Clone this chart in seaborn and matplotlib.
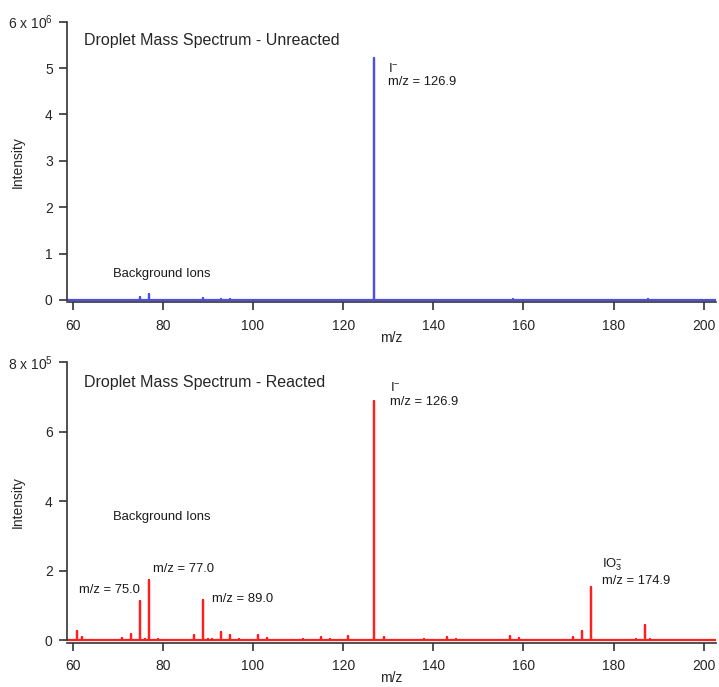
import matplotlib
matplotlib.use('Agg')
import numpy as np
import pandas as pd
import seaborn as sns
from matplotlib import pyplot as plt
from matplotlib.ticker import FuncFormatter

# stick spectra: m/z position and peak height
unreacted_mz = [75.0, 77.0, 89.0, 93.0, 95.0, 126.9, 157.6, 187.6]
unreacted_int = [0.06e6, 0.12e6, 0.04e6, 0.02e6, 0.01e6, 5.21e6, 0.01e6, 0.01e6]

reacted_mz = [61, 62, 71, 73, 75.0, 76, 77.0, 79, 81, 87, 89.0, 90, 91, 93, 95, 97, 99, 101, 103, 105,
              111, 115, 117, 121, 126.9, 129, 131, 138, 143, 145, 147, 151, 157, 159, 171, 173, 174.9,
              185, 187, 188, 197, 199]
reacted_int = [0.26e5, 0.11e5, 0.06e5, 0.19e5, 1.13e5, 0.05e5, 1.75e5, 0.03e5, 0.02e5, 0.16e5,
               1.16e5, 0.03e5, 0.03e5, 0.25e5, 0.16e5, 0.03e5, 0.02e5, 0.15e5, 0.08e5, 0.02e5,
               0.03e5, 0.10e5, 0.05e5, 0.12e5, 6.89e5, 0.09e5, 0.02e5, 0.03e5, 0.09e5, 0.03e5,
               0.02e5, 0.02e5, 0.13e5, 0.07e5, 0.10e5, 0.28e5, 1.54e5, 0.03e5, 0.43e5, 0.03e5,
               0.02e5, 0.02e5]

XLIM = (58.8, 202.6)
BLUE = '#4f4fe8'
RED = '#ff1f1f'
FONT = ['Liberation Sans', 'DejaVu Sans']
LABEL_SIZE = 9.4
TITLE_SIZE = 11.5


def stick_frame(mz, intensity, xlim):
    # one continuous trace: baseline at zero with a spike at every peak
    xs, ys = [xlim[0]], [0.0]
    for m, h in zip(mz, intensity):
        xs += [m, m, m]
        ys += [0.0, h, 0.0]
    xs.append(xlim[1])
    ys.append(0.0)
    return pd.DataFrame({'mz': xs, 'intensity': ys})


def style_axis(ax, ymax, exponent, ybottom, ystep):
    ax.set_xlim(*XLIM)
    ax.set_ylim(ybottom, ymax)
    ax.spines['left'].set_bounds(0, ymax)
    for side in ('top', 'right'):
        ax.spines[side].set_visible(False)
    for side in ('left', 'bottom'):
        ax.spines[side].set_color('#333333')
        ax.spines[side].set_linewidth(1.2)
    ax.set_xticks(np.arange(60, 201, 20))
    ax.set_yticks(np.arange(0, ymax + 1, ystep))
    ax.tick_params(direction='out', length=6, width=1.2, color='#333333', labelsize=10)
    ax.tick_params(axis='x', pad=6)
    ax.tick_params(axis='y', pad=4.5)
    scale = 10 ** exponent

    def fmt(v, pos):
        n = int(round(v / scale))
        if abs(v - ymax) < 1e-6 * ymax:
            return f'{n} x 10$^{exponent}$'
        return f'{n}'

    ax.yaxis.set_major_formatter(FuncFormatter(fmt))
    ax.set_xlabel('m/z', fontsize=10, labelpad=-1.5)
    ax.set_ylabel('Intensity', fontsize=10)
    ax.yaxis.set_label_coords(-0.066, 0.5)


sns.set_theme(style='ticks')
plt.rcParams['font.family'] = FONT
plt.rcParams['mathtext.fontset'] = 'custom'
plt.rcParams['mathtext.rm'] = 'Liberation Sans'
plt.rcParams['mathtext.it'] = 'Liberation Sans'

fig = plt.figure(figsize=(7.19, 6.87), dpi=100)
W, H = 719, 687
ax1 = fig.add_axes([67.3 / W, 1 - 302 / H, (715.5 - 67.3) / W, (302 - 21.7) / H])
ax2 = fig.add_axes([67.3 / W, 1 - 642.5 / H, (715.5 - 67.3) / W, (642.5 - 362.3) / H])

df1 = stick_frame(unreacted_mz, unreacted_int, XLIM)
df2 = stick_frame(reacted_mz, reacted_int, XLIM)
sns.lineplot(data=df1, x='mz', y='intensity', sort=False, estimator=None, color=BLUE, lw=1.6, ax=ax1)
sns.lineplot(data=df2, x='mz', y='intensity', sort=False, estimator=None, color=RED, lw=1.6, ax=ax2)

style_axis(ax1, 6e6, 6, -0.045e6, 1e6)
style_axis(ax2, 8e5, 5, -0.06e5, 2e5)

txt = dict(fontsize=LABEL_SIZE, va='center', ha='left', color='#1a1a1a', linespacing=1.15)

ax1.text(62.5, 5.6e6, 'Droplet Mass Spectrum - Unreacted', fontsize=TITLE_SIZE, va='center', ha='left')
ax1.text(130.0, 4.85e6, 'I$^{-}$\nm/z = 126.9', **txt)
ax1.text(69.0, 0.56e6, 'Background Ions', **txt)

ax2.text(62.5, 7.42e5, 'Droplet Mass Spectrum - Reacted', fontsize=TITLE_SIZE, va='center', ha='left')
ax2.text(130.5, 7.07e5, 'I$^{-}$\nm/z = 126.9', **txt)
ax2.text(69.0, 3.55e5, 'Background Ions', **txt)
ax2.text(61.5, 1.45e5, 'm/z = 75.0', **txt)
ax2.text(77.8, 2.05e5, 'm/z = 77.0', **txt)
ax2.text(90.8, 1.18e5, 'm/z = 89.0', **txt)
ax2.text(177.4, 1.98e5, 'IO$_{3}^{-}$\nm/z = 174.9', **txt)

fig.savefig('out.png', dpi=100)
